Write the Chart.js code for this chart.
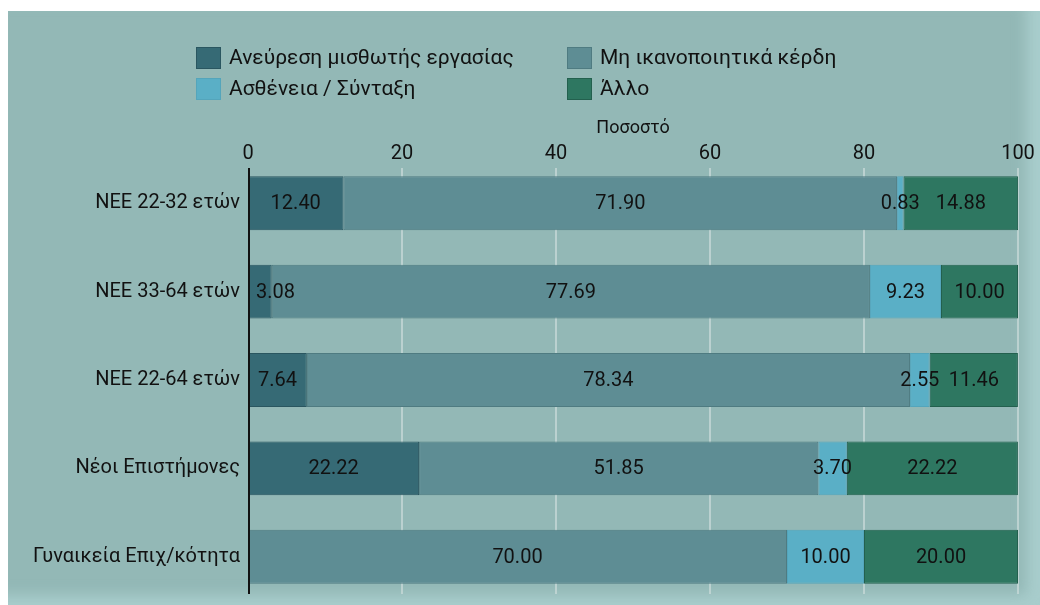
<!DOCTYPE html>
<html>
<head>
  <title>Λόγοι διακοπής</title>
  <style>
    body { margin: 0; background: #fff; }
    .panel {
      position: absolute; left: 8px; top: 11px; width: 1032px; height: 594px;
      background: #93b8b6;
      box-shadow: inset -14px -10px 14px rgba(185, 222, 222, 0.55);
    }
  </style>
  <script src="https://cdn.jsdelivr.net/npm/chart.js"></script>
</head>
<body>
  <div class="panel">
    <canvas id="chart" width="1032" height="594"></canvas>
  </div>
  <script>
    const categories = ['NEE 22-32 ετών', 'NEE 33-64 ετών', 'NEE 22-64 ετών', 'Νέοι Επιστήμονες', 'Γυναικεία Επιχ/κότητα'];
    const seriesNames = ['Ανεύρεση μισθωτής εργασίας', 'Μη ικανοποιητικά κέρδη', 'Ασθένεια / Σύνταξη', 'Άλλο'];
    const employment = [12.40, 3.08, 7.64, 22.22, 0];
    const lowProfit = [71.90, 77.69, 78.34, 51.85, 70.00];
    const illness = [0.83, 9.23, 2.55, 3.70, 10.00];
    const other = [14.88, 10.00, 11.46, 22.22, 20.00];
    const xTicks = [0, 20, 40, 60, 80, 100];
    const axisTitle = 'Ποσοστό';

    const colors = ['#366a75', '#5e8d94', '#5aafc6', '#2e7761'];
    const borders = ['#2a5660', '#4f7b81', '#54a5bb', '#23604e'];
    const font = 'Roboto';

    // legend in two columns, like the original
    const legendGrid = {
      id: 'legendGrid',
      afterDraw(chart) {
        const ctx = chart.ctx;
        ctx.save();
        ctx.font = '21px ' + font;
        ctx.textBaseline = 'middle';
        chart.data.datasets.forEach((ds, i) => {
          const col = i % 2, row = Math.floor(i / 2);
          const x = col === 0 ? 188 : 559;
          const y = 47 + row * 31;
          ctx.fillStyle = ds.backgroundColor;
          ctx.fillRect(x, y - 11, 25, 22);
          ctx.strokeStyle = ds.borderColor;
          ctx.strokeRect(x + 0.5, y - 10.5, 24, 21);
          ctx.fillStyle = '#111';
          ctx.fillText(ds.label, x + 33, y + 1);
        });
        ctx.restore();
      }
    };

    // grid lines (behind the bars) and the black left axis line (over them)
    const axisLines = {
      id: 'axisLines',
      beforeDatasetsDraw(chart) {
        const { ctx, chartArea, scales } = chart;
        ctx.save();
        ctx.strokeStyle = '#c9dad8';
        ctx.lineWidth = 1.5;
        scales.x.ticks.forEach(t => {
          if (t.value === 0) return;
          const px = scales.x.getPixelForValue(t.value);
          ctx.beginPath();
          ctx.moveTo(px, chartArea.top + 9);
          ctx.lineTo(px, chartArea.bottom - 7);
          ctx.stroke();
        });
        ctx.restore();
      },
      afterDatasetsDraw(chart) {
        const { ctx, chartArea, scales } = chart;
        const px = scales.x.getPixelForValue(0) + 1;
        ctx.save();
        ctx.strokeStyle = '#111';
        ctx.lineWidth = 2;
        ctx.beginPath();
        ctx.moveTo(px, chartArea.top + 9);
        ctx.lineTo(px, chartArea.bottom - 7);
        ctx.stroke();

        // value labels in the middle of each segment
        ctx.font = '20px ' + font;
        ctx.fillStyle = '#111';
        ctx.textAlign = 'center';
        ctx.textBaseline = 'middle';
        chart.data.datasets.forEach((ds, i) => {
          chart.getDatasetMeta(i).data.forEach((bar, j) => {
            const v = ds.data[j];
            if (!v) return;
            const txt = v.toFixed(2);
            const w = ctx.measureText(txt).width;
            const c = bar.getCenterPoint();
            const x = Math.max(c.x, chartArea.left + 8 + w / 2);
            ctx.fillText(txt, x, c.y + 1);
          });
        });
        ctx.restore();
      }
    };

    const data = [employment, lowProfit, illness, other];

    new Chart(document.getElementById('chart'), {
      type: 'bar',
      data: {
        labels: categories,
        datasets: seriesNames.map((name, i) => ({
          label: name,
          data: data[i],
          backgroundColor: colors[i],
          borderColor: borders[i],
          borderWidth: 1,
          borderSkipped: false,
          barPercentage: 0.61,
          categoryPercentage: 1
        }))
      },
      options: {
        indexAxis: 'y',
        responsive: false,
        animation: false,
        layout: { padding: { top: 108, right: 22, bottom: 4, left: 0 } },
        plugins: { legend: { display: false }, tooltip: { enabled: false } },
        scales: {
          x: {
            position: 'top',
            stacked: true,
            min: 0,
            max: 100,
            afterBuildTicks(scale) { scale.ticks = xTicks.map(v => ({ value: v })); },
            afterFit(scale) { scale.height = 40; },
            grid: { display: false, drawTicks: false },
            border: { display: false },
            ticks: { color: '#111', font: { family: font, size: 20, lineHeight: 0.5 }, padding: 0 },
            title: { display: true, text: axisTitle, color: '#111', font: { family: font, size: 18, lineHeight: 1.05 }, padding: 0 }
          },
          y: {
            stacked: true,
            afterFit(scale) {
              scale.width = 240;
              scale.paddingTop = 0;
              scale.paddingBottom = 0;
            },
            grid: { display: false, drawTicks: false },
            border: { display: false },
            ticks: { color: '#111', font: { family: font, size: 20 }, padding: 8 }
          }
        }
      },
      plugins: [legendGrid, axisLines]
    });
  </script>
</body>
</html>
